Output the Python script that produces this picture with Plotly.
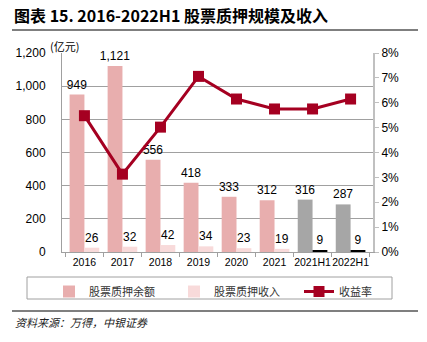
import plotly.graph_objects as go

categories = ["2016", "2017", "2018", "2019", "2020", "2021", "2021H1", "2022H1"]
balance = [949, 1121, 556, 418, 333, 312, 316, 287]
income = [26, 32, 42, 34, 23, 19, 9, 9]
rate = [5.48, 3.13, 5.02, 7.06, 6.15, 5.75, 5.75, 6.15]
y_ticks = [0, 200, 400, 600, 800, 1000, 1200]
y_tick_text = ["0", "200", "400", "600", "800", "1,000", "1,200"]
y2_ticks = [0, 1, 2, 3, 4, 5, 6, 7, 8]
y2_tick_text = [f"{v}%" for v in y2_ticks]

PINK = "#E8AEAE"
LIGHT = "#F8DADA"
GRAY = "#A6A6A6"
RED = "#A50021"
FONT = "Liberation Sans, Arial, sans-serif"
CJK = "Noto Sans CJK SC"

bal_colors = [PINK] * 6 + [GRAY] * 2
inc_colors = [LIGHT] * 6 + ["#000000"] * 2

fig = go.Figure()
fig.add_trace(go.Bar(
    x=categories, y=balance, name="股票质押余额", legend="legend",
    marker=dict(color=bal_colors, line=dict(width=0)),
    text=[f"{v:,}" for v in balance], textposition="outside", constraintext="none",
    textfont=dict(family=FONT, size=12, color="#000"), cliponaxis=False,
))
fig.add_trace(go.Bar(
    x=categories, y=income, name="股票质押收入", legend="legend2",
    marker=dict(color=inc_colors, line=dict(width=0)),
    text=[str(v) for v in income], textposition="outside", constraintext="none",
    textfont=dict(family=FONT, size=12, color="#000"), cliponaxis=False,
))
fig.add_trace(go.Scatter(
    x=categories, y=rate, name="收益率", yaxis="y2", mode="lines+markers", legend="legend3",
    line=dict(color=RED, width=3),
    marker=dict(symbol="square", size=11, color=RED),
))

L, R, T, B = 62, 54, 53, 90
PW, PH = 427 - L - R, 342 - T - B

def px(x):
    return (x - L) / PW

def py(y):
    return (342 - B - y) / PH

def leg(xpix):
    return dict(
        orientation="h", x=px(xpix), y=py(277), xanchor="left", yanchor="top",
        bgcolor="rgba(0,0,0,0)", borderwidth=0,
        font=dict(family=CJK, size=11, color="#333"),
        itemwidth=30,
    )

fig.update_layout(
    width=427, height=342,
    margin=dict(l=L, r=R, t=T, b=B),
    paper_bgcolor="white", plot_bgcolor="white",
    barmode="group", bargap=0.22, bargroupgap=0,
    font=dict(family=FONT, size=12, color="#000"),
    showlegend=True,
    legend=leg(49),
    legend2=leg(174),
    legend3=leg(299),
    xaxis=dict(
        showline=True, linecolor="#A0A0A0", linewidth=1,
        ticks="outside", tickson="boundaries", ticklen=4, tickcolor="#A0A0A0",
        tickfont=dict(family=FONT, size=10.5, color="#000"), tickangle=0,
        showgrid=False,
    ),
    yaxis=dict(
        range=[0, 1200], tickvals=y_ticks, ticktext=y_tick_text,
        showline=True, linecolor="#A0A0A0", linewidth=1,
        showgrid=True, gridcolor="#A0A0A0", gridwidth=1,
        tickfont=dict(family=FONT, size=12, color="#000"),
        zeroline=False, ticks="", ticklabelstandoff=13,
    ),
    yaxis2=dict(
        range=[0, 8], tickvals=y2_ticks, ticktext=y2_tick_text,
        overlaying="y", side="right",
        showline=True, linecolor="#C0C0C0", linewidth=2,
        ticks="outside", ticklen=4, tickcolor="#C0C0C0",
        showgrid=False, zeroline=False,
        tickfont=dict(family=FONT, size=12, color="#000"),
    ),
    shapes=[
        dict(type="line", xref="paper", yref="paper", x0=px(12), x1=px(418), y0=py(30), y1=py(30),
             line=dict(color="#555", width=1.5)),
        dict(type="line", xref="paper", yref="paper", x0=px(12), x1=px(418), y0=py(311), y1=py(311),
             line=dict(color="#555", width=1.5)),
        dict(type="rect", xref="paper", yref="paper", x0=px(27), x1=px(392), y0=py(277), y1=py(299),
             line=dict(color="#A0A0A0", width=1)),
    ],
    annotations=[
        dict(text="<b>图表 15. 2016-2022H1 股票质押规模及收入</b>", xref="paper", yref="paper",
             x=px(12), y=py(15), xanchor="left", yanchor="middle", showarrow=False,
             font=dict(family=CJK, size=16, color="#000")),
        dict(text="(亿元)", xref="paper", yref="paper", x=px(48), y=py(46),
             xanchor="left", yanchor="middle", showarrow=False,
             font=dict(family=CJK, size=11, color="#000")),
        dict(text="<i>资料来源：万得，中银证券</i>", xref="paper", yref="paper",
             x=px(13), y=py(322), xanchor="left", yanchor="middle", showarrow=False,
             font=dict(family=CJK, size=11, color="#222")),
    ],
)

fig.write_html("out.html")
